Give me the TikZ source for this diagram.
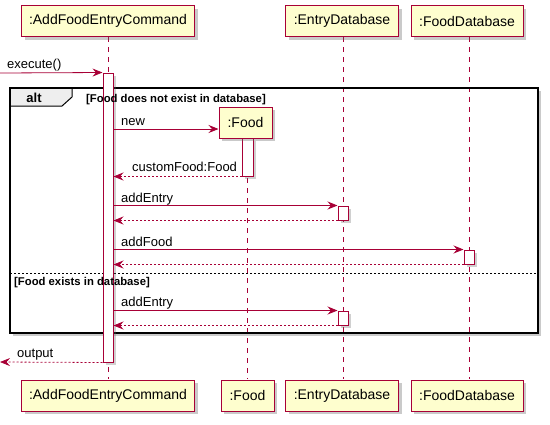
\documentclass[tikz,border=0pt]{standalone}
\usepackage{fontspec}
\setmainfont{Liberation Sans}
\usetikzlibrary{arrows.meta,shadows,positioning}
\definecolor{pred}{HTML}{A80036}
\definecolor{pfill}{HTML}{FEFECE}
\definecolor{tabfill}{HTML}{EEEEEE}
\tikzset{
  part/.style={draw=pred, fill=pfill, line width=1pt, minimum height=31pt, inner sep=0pt,
    font=\fontsize{14}{16}\selectfont, drop shadow={shadow xshift=3pt, shadow yshift=-3pt, opacity=0.35, fill=black!60}},
  life/.style={draw=pred, line width=0.8pt, dash pattern=on 5pt off 5pt},
  actbar/.style={draw=pred, fill=white, line width=1pt, drop shadow={shadow xshift=2.5pt, shadow yshift=-2.5pt, opacity=0.3, fill=black!60}},
  msg/.style={draw=pred, line width=0.8pt, -{Stealth[length=10pt,width=8pt,inset=3.5pt]}},
  ret/.style={draw=pred, line width=0.8pt, dash pattern=on 2pt off 2pt, -{Stealth[length=10pt,width=8pt,inset=3.5pt]}},
  lbl/.style={font=\fontsize{13}{15}\selectfont, inner sep=0pt, anchor=base west},
  guard/.style={font=\bfseries\fontsize{11.3}{13}\selectfont, inner sep=0pt, anchor=base west},
}
\begin{document}
\begin{tikzpicture}[x=1pt,y=-1pt]
\useasboundingbox (0,0) rectangle (550,424);
% alt frame background with shadow
\path[fill=white, drop shadow={shadow xshift=3pt, shadow yshift=-3pt, opacity=0.35, fill=black!60}] (10,88) rectangle (538,333);
% lifelines
\draw[life] (108,37) -- (108,379);
\draw[life] (247.5,138) -- (247.5,379);
\draw[life] (343,37) -- (343,379);
\draw[life] (469,37) -- (469,379);
% alt frame
\draw[line width=2pt] (10,88) rectangle (538,333);
\fill[tabfill] (11,89) -- (72,89) -- (72,97) -- (62,106) -- (11,106) -- cycle;
\draw[line width=1pt] (10,106) -- (62,106) -- (72,97) -- (72,88);
\node[font=\bfseries\fontsize{13}{15}\selectfont, inner sep=0pt, anchor=base] (altl) at (34,102) {alt};
\draw[line width=1pt, dash pattern=on 2pt off 2pt] (10,273) -- (538,273);
% participants
\node[part, minimum width=173pt] (a1) at (108,21) {:AddFoodEntryCommand};
\node[part, minimum width=113pt] (e1) at (342,21) {:EntryDatabase};
\node[part, minimum width=112pt] (f1) at (467,21) {:FoodDatabase};
\node[part, minimum width=173pt] (a2) at (108,395.5) {:AddFoodEntryCommand};
\node[part, minimum width=53pt] (fo2) at (247.5,395.5) {:Food};
\node[part, minimum width=113pt] (e2) at (342,395.5) {:EntryDatabase};
\node[part, minimum width=112pt] (f2) at (467,395.5) {:FoodDatabase};
% main activation
\node[actbar, minimum width=10pt, minimum height=289pt, inner sep=0pt] (act) at (108,217.5) {};
% guards drawn over the activation bar
\node[guard] (g1) at (86,102) {[Food does not exist in database]};
\node[guard] (g2) at (14,285) {[Food exists in database]};
% Food creation
\node[actbar, minimum width=11pt, minimum height=38pt, inner sep=0pt] (fact) at (247.5,157) {};
\node[part, minimum width=53pt] (fo1) at (245.5,122.5) {:Food};
% activation bars on databases
\node[actbar, minimum width=10pt, minimum height=14pt, inner sep=0pt] (ea1) at (343,213) {};
\node[actbar, minimum width=10pt, minimum height=14pt, inner sep=0pt] (fa1) at (469,257) {};
\node[actbar, minimum width=10pt, minimum height=14pt, inner sep=0pt] (ea2) at (343,318) {};
% messages
\coordinate (start) at (0,73);
\coordinate (endp) at (0,362);
\draw[msg] (start) -- (act.north west);
\node[lbl] (l0) at (7,68) {execute()};
\draw[msg] (act.east |- 0,129) -- (fo1.west |- 0,129);
\node[lbl] (l1) at (121,125) {new};
\draw[ret] (fact.south west) -- (act.east |- fact.south);
\node[lbl] (l2) at (132,171) {customFood:Food};
\draw[msg] (act.east |- ea1.north) -- (ea1.north west);
\node[lbl] (l3) at (121,202) {addEntry};
\draw[ret] (ea1.south west) -- (act.east |- ea1.south);
\draw[msg] (act.east |- fa1.north) -- (fa1.north west);
\node[lbl] (l4) at (121,246) {addFood};
\draw[ret] (fa1.south west) -- (act.east |- fa1.south);
\draw[msg] (act.east |- ea2.north) -- (ea2.north west);
\node[lbl] (l5) at (121,306) {addEntry};
\draw[ret] (ea2.south west) -- (act.east |- ea2.south);
\draw[ret] (act.south west) -- (endp);
\node[lbl] (l6) at (17,357) {output};
\end{tikzpicture}
\end{document}
